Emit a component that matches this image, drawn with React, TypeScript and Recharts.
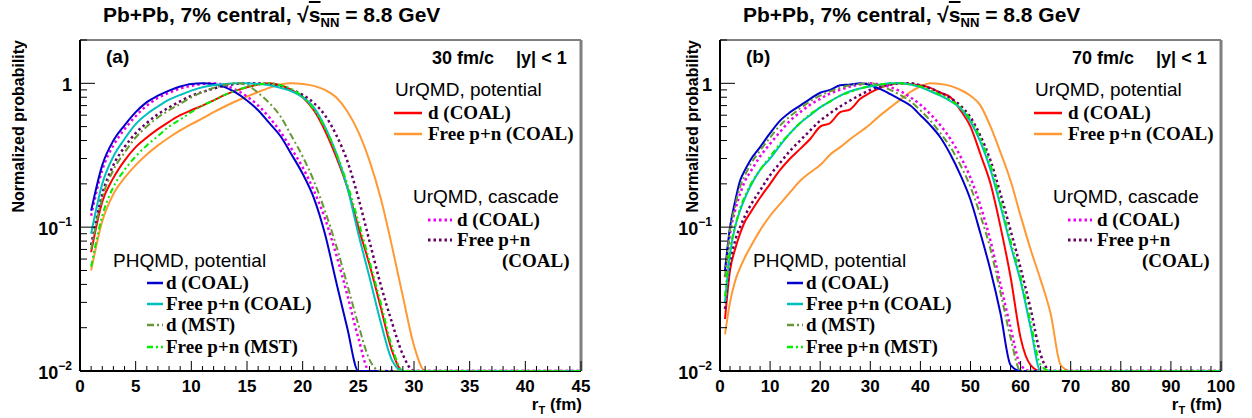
import React from 'react';
import { LineChart, Line, XAxis, YAxis, ReferenceLine } from 'recharts';

// r_T grid (fm)
const rA = [1, 2, 3, 4, 5, 6, 7, 8, 9, 10, 11, 12, 13, 14, 15, 16, 17, 18, 19, 20, 21, 22, 23, 24, 25, 26, 27, 28, 29, 30, 31, 45];
const rB = [1, 2, 3, 4, 5, 6, 8, 10, 12, 14, 16, 18, 20, 22, 24, 26, 28, 30, 32, 34, 36, 38, 40, 42, 44, 46, 48, 50, 52, 54, 56, 58, 60, 62, 64, 66, 68, 70, 100];

// (a) 30 fm/c
const aPhqmdD = [0.13, 0.27, 0.4, 0.51, 0.63, 0.74, 0.82, 0.89, 0.95, 0.99, 1.0, 0.99, 0.94, 0.86, 0.76, 0.65, 0.53, 0.43, 0.32, 0.235, 0.16, 0.09, 0.042, 0.02, 0.01, 0.01, 0.01, 0.01, 0.01, 0.01, 0.01, 0.01];
const aPhqmdFree = [0.09, 0.2, 0.31, 0.41, 0.52, 0.61, 0.69, 0.77, 0.83, 0.89, 0.94, 0.97, 0.99, 1.0, 1.0, 0.99, 0.97, 0.93, 0.88, 0.8, 0.68, 0.5, 0.33, 0.19, 0.09, 0.045, 0.022, 0.012, 0.01, 0.01, 0.01, 0.01];
const aPhqmdDMst = [0.07, 0.16, 0.25, 0.33, 0.42, 0.5, 0.58, 0.65, 0.72, 0.8, 0.87, 0.93, 0.97, 1.0, 0.97, 0.86, 0.73, 0.59, 0.43, 0.31, 0.21, 0.13, 0.075, 0.04, 0.021, 0.012, 0.01, 0.01, 0.01, 0.01, 0.01, 0.01];
const aPhqmdFreeMst = [0.053, 0.12, 0.19, 0.25, 0.31, 0.37, 0.43, 0.5, 0.56, 0.63, 0.7, 0.76, 0.83, 0.89, 0.94, 0.98, 1.0, 0.97, 0.91, 0.81, 0.66, 0.49, 0.33, 0.2, 0.11, 0.058, 0.03, 0.015, 0.01, 0.01, 0.01, 0.01];
const aUrqmdD = [0.067, 0.15, 0.22, 0.29, 0.36, 0.42, 0.48, 0.54, 0.6, 0.65, 0.7, 0.76, 0.83, 0.89, 0.94, 0.98, 1.0, 0.97, 0.9, 0.8, 0.65, 0.47, 0.31, 0.19, 0.1, 0.055, 0.028, 0.014, 0.01, 0.01, 0.01, 0.01];
const aUrqmdFree = [0.05, 0.11, 0.17, 0.22, 0.27, 0.32, 0.37, 0.42, 0.47, 0.52, 0.57, 0.63, 0.69, 0.75, 0.81, 0.87, 0.93, 0.98, 1.0, 0.99, 0.96, 0.9, 0.8, 0.64, 0.46, 0.29, 0.16, 0.075, 0.033, 0.015, 0.01, 0.01];
const aCascD = [0.12, 0.25, 0.37, 0.48, 0.59, 0.7, 0.79, 0.86, 0.92, 0.96, 0.99, 1.0, 0.97, 0.9, 0.81, 0.7, 0.58, 0.46, 0.35, 0.26, 0.18, 0.115, 0.065, 0.034, 0.017, 0.01, 0.01, 0.01, 0.01, 0.01, 0.01, 0.01];
const aCascFree = [0.075, 0.17, 0.27, 0.36, 0.45, 0.53, 0.61, 0.68, 0.75, 0.82, 0.87, 0.92, 0.96, 0.99, 1.0, 1.0, 0.98, 0.95, 0.9, 0.83, 0.73, 0.6, 0.44, 0.29, 0.16, 0.08, 0.04, 0.022, 0.013, 0.01, 0.01, 0.01];

// (b) 70 fm/c
const bPhqmdD = [0.05, 0.1, 0.15, 0.21, 0.25, 0.29, 0.36, 0.45, 0.55, 0.63, 0.7, 0.78, 0.86, 0.9, 0.97, 0.98, 1.0, 0.97, 0.91, 0.84, 0.77, 0.7, 0.6, 0.51, 0.42, 0.32, 0.23, 0.155, 0.09, 0.05, 0.025, 0.011, 0.01, 0.01, 0.01, 0.01, 0.01, 0.01, 0.01];
const bPhqmdFree = [0.03, 0.065, 0.1, 0.13, 0.16, 0.19, 0.25, 0.3, 0.37, 0.45, 0.53, 0.6, 0.68, 0.75, 0.82, 0.88, 0.92, 0.95, 0.98, 1.0, 1.0, 0.98, 0.94, 0.88, 0.82, 0.75, 0.67, 0.54, 0.39, 0.25, 0.14, 0.075, 0.042, 0.02, 0.01, 0.01, 0.01, 0.01, 0.01];
const bPhqmdDMst = [0.045, 0.095, 0.14, 0.19, 0.23, 0.27, 0.34, 0.42, 0.51, 0.59, 0.67, 0.75, 0.82, 0.88, 0.93, 0.97, 0.99, 1.0, 0.96, 0.9, 0.83, 0.75, 0.65, 0.55, 0.45, 0.36, 0.27, 0.19, 0.12, 0.07, 0.035, 0.017, 0.01, 0.01, 0.01, 0.01, 0.01, 0.01, 0.01];
const bPhqmdFreeMst = [0.033, 0.07, 0.1, 0.135, 0.165, 0.195, 0.25, 0.31, 0.38, 0.45, 0.53, 0.61, 0.68, 0.75, 0.82, 0.87, 0.92, 0.96, 0.98, 1.0, 1.0, 0.98, 0.95, 0.89, 0.83, 0.76, 0.68, 0.56, 0.41, 0.27, 0.15, 0.08, 0.045, 0.022, 0.011, 0.01, 0.01, 0.01, 0.01];
const bUrqmdD = [0.023, 0.05, 0.07, 0.09, 0.11, 0.125, 0.16, 0.2, 0.25, 0.3, 0.35, 0.41, 0.5, 0.53, 0.63, 0.66, 0.78, 0.86, 0.93, 0.98, 1.0, 0.99, 0.97, 0.93, 0.86, 0.8, 0.65, 0.5, 0.32, 0.2, 0.1, 0.045, 0.017, 0.011, 0.01, 0.01, 0.01, 0.01, 0.01];
const bUrqmdFree = [0.018, 0.03, 0.042, 0.052, 0.062, 0.072, 0.095, 0.12, 0.145, 0.175, 0.21, 0.24, 0.27, 0.32, 0.36, 0.41, 0.46, 0.52, 0.6, 0.68, 0.77, 0.87, 0.95, 1.0, 0.99, 0.96, 0.9, 0.82, 0.7, 0.5, 0.33, 0.21, 0.12, 0.07, 0.043, 0.025, 0.011, 0.01, 0.01];
const bCascD = [0.045, 0.09, 0.13, 0.17, 0.21, 0.24, 0.31, 0.38, 0.46, 0.55, 0.63, 0.71, 0.78, 0.85, 0.9, 0.95, 0.98, 1.0, 0.98, 0.94, 0.88, 0.8, 0.71, 0.61, 0.51, 0.41, 0.31, 0.22, 0.14, 0.08, 0.04, 0.02, 0.011, 0.01, 0.01, 0.01, 0.01, 0.01, 0.01];
const bCascFree = [0.027, 0.055, 0.08, 0.1, 0.12, 0.14, 0.18, 0.23, 0.28, 0.34, 0.4, 0.47, 0.55, 0.62, 0.69, 0.76, 0.83, 0.9, 0.95, 0.98, 1.0, 1.0, 0.97, 0.92, 0.86, 0.79, 0.7, 0.58, 0.43, 0.29, 0.17, 0.095, 0.052, 0.027, 0.013, 0.01, 0.01, 0.01, 0.01];

const ticksA = Array.from({ length: 46 }, (_, i) => i);
const ticksB = Array.from({ length: 51 }, (_, i) => i * 2);
const yTicks = [0.01, 0.02, 0.03, 0.04, 0.05, 0.06, 0.07, 0.08, 0.09, 0.1, 0.2, 0.3, 0.4, 0.5, 0.6, 0.7, 0.8, 0.9, 1, 2];
const yMajor: Record<string, [string, string]> = { '0.01': ['10', '\u22122'], '0.1': ['10', '\u22121'], '1': ['1', ''] };

const SANS = '"Liberation Sans", Arial, sans-serif';
const SERIF = '"Liberation Serif", "Times New Roman", serif';

// drawing order: last one on top
const SERIES = [
  { key: 'urqmdFree', color: '#ff9933', dash: undefined as string | undefined, width: 2 },
  { key: 'urqmdD', color: '#ff0000', dash: undefined, width: 2 },
  { key: 'cascFree', color: '#660066', dash: '2.5 3', width: 2.5 },
  { key: 'cascD', color: '#ee00ee', dash: '2.5 3', width: 2.5 },
  { key: 'phqmdD', color: '#0000cc', dash: undefined, width: 2 },
  { key: 'phqmdFree', color: '#00bfbf', dash: undefined, width: 2 },
  { key: 'phqmdDMst', color: '#669933', dash: '7 3 2 3', width: 2 },
  { key: 'phqmdFreeMst', color: '#00ee00', dash: '6 3 2 3 2 3', width: 2 },
];
const sOf = (k: string) => SERIES.find((s) => s.key === k)!;

const buildRows = (r: number[], cols: Record<string, number[]>) =>
  r.map((v, i) => {
    const row: Record<string, number> = { r: v };
    Object.keys(cols).forEach((k) => (row[k] = cols[k][i]));
    return row;
  });

const dataA = buildRows(rA, {
  phqmdD: aPhqmdD, phqmdFree: aPhqmdFree, phqmdDMst: aPhqmdDMst, phqmdFreeMst: aPhqmdFreeMst,
  urqmdD: aUrqmdD, urqmdFree: aUrqmdFree, cascD: aCascD, cascFree: aCascFree,
});
const dataB = buildRows(rB, {
  phqmdD: bPhqmdD, phqmdFree: bPhqmdFree, phqmdDMst: bPhqmdDMst, phqmdFreeMst: bPhqmdFreeMst,
  urqmdD: bUrqmdD, urqmdFree: bUrqmdFree, cascD: bCascD, cascFree: bCascFree,
});

const XTick = (p: any) => {
  const { x, y, payload, majorStep } = p;
  const major = payload.value % majorStep === 0;
  return (
    <g>
      <line x1={x} x2={x} y1={y} y2={y - (major ? 10 : 5)} stroke="#000" strokeWidth={1} />
      {major && (
        <text x={x} y={y + 21} textAnchor="middle" fontFamily={SANS} fontWeight="bold" fontSize={17} fill="#000">
          {payload.value}
        </text>
      )}
    </g>
  );
};

const YTick = (p: any) => {
  const { x, y, payload } = p;
  const lab = yMajor[String(payload.value)];
  return (
    <g>
      <line x1={x} x2={x + (lab ? 15 : 7)} y1={y} y2={y} stroke="#000" strokeWidth={1} />
      {lab && (
        <text x={x - 8} y={y + 8} textAnchor="end" fontFamily={SANS} fontWeight="bold" fontSize={18} fill="#000">
          <tspan>{lab[0]}</tspan>
          {lab[1] && <tspan dy={-9} fontSize={12}>{lab[1]}</tspan>}
        </text>
      )}
    </g>
  );
};

const Sample = ({ k, len }: { k: string; len: number }) => {
  const s = sOf(k);
  return (
    <svg width={len} height={6} style={{ display: 'block' }}>
      <line x1={0} y1={3} x2={len} y2={3} stroke={s.color} strokeWidth={s.width + 0.5} strokeDasharray={s.dash} />
    </svg>
  );
};

const Row = ({ k, x, y, len, gap, text }: { k?: string; x: number; y: number; len: number; gap: number; text: string }) => (
  <div style={{ position: 'absolute', left: x, top: y - 11, height: 22, display: 'flex', alignItems: 'center', whiteSpace: 'nowrap' }}>
    {k ? <Sample k={k} len={len} /> : <div style={{ width: len }} />}
    <span style={{ marginLeft: gap, fontFamily: SERIF, fontWeight: 'bold', fontSize: 19, lineHeight: '22px' }}>{text}</span>
  </div>
);

const Head = ({ x, y, text }: { x: number; y: number; text: string }) => (
  <div style={{ position: 'absolute', left: x, top: y - 11, lineHeight: '22px', fontFamily: SANS, fontSize: 19, whiteSpace: 'nowrap' }}>{text}</div>
);

function Panel({ data, xMax, xTicks, majorStep, tag, time, left, yTitleX }: any) {
  return (
    <div style={{ position: 'absolute', left, top: 0, width: 626, height: 418 }}>
      <LineChart width={626} height={418} data={data} margin={{ top: 40, right: 45, bottom: 17, left: 20 }}>
        <XAxis
          dataKey="r" type="number" domain={[0, xMax]} ticks={xTicks} interval={0} allowDataOverflow
          height={30} tickSize={0} tickMargin={0} tickLine={false}
          axisLine={{ stroke: '#000', strokeWidth: 2 }}
          tick={(p: any) => <XTick {...p} majorStep={majorStep} />}
        />
        <YAxis
          type="number" scale="log" domain={[0.01, 2]} ticks={yTicks} interval={0} allowDataOverflow
          width={60} tickSize={0} tickMargin={0} tickLine={false}
          axisLine={{ stroke: '#000', strokeWidth: 2 }}
          tick={(p: any) => <YTick {...p} />}
        />
        <ReferenceLine y={2} stroke="#000" strokeWidth={1} ifOverflow="extendDomain" />
        <ReferenceLine x={xMax} stroke="#808080" strokeWidth={3} />
        {SERIES.map((s) => (
          <Line
            key={s.key} dataKey={s.key} type="monotone" stroke={s.color} strokeWidth={s.width}
            strokeDasharray={s.dash} dot={false} activeDot={false} isAnimationActive={false}
            {...({ zIndex: 600 } as any)}
          />
        ))}
      </LineChart>

      <div style={{ position: 'absolute', left: 103, top: 2, fontFamily: SANS, fontWeight: 'bold', fontSize: 21, whiteSpace: 'nowrap', lineHeight: '26px' }}>
        Pb+Pb, 7% central, {'\u221A'}
        <span style={{ textDecoration: 'overline' }}>
          s<sub style={{ fontSize: 13 }}>NN</sub>
        </span>{' '}
        = 8.8 GeV
      </div>
      <div
        style={{
          position: 'absolute', left: yTitleX, top: 40, writingMode: 'vertical-rl', transform: 'rotate(180deg)',
          fontFamily: SANS, fontWeight: 'bold', fontSize: 16, lineHeight: '18px', whiteSpace: 'nowrap',
        }}
      >
        Normalized probability
      </div>
      <div style={{ position: 'absolute', left: 106, top: 46, fontFamily: SANS, fontWeight: 'bold', fontSize: 19, lineHeight: '22px' }}>{tag}</div>
      <div style={{ position: 'absolute', left: 432, top: 47, fontFamily: SANS, fontWeight: 'bold', fontSize: 18, lineHeight: '22px', whiteSpace: 'nowrap' }}>
        {time}
        <span style={{ marginLeft: 22 }}>|y| &lt; 1</span>
      </div>
      <div style={{ position: 'absolute', right: 44, top: 395, fontFamily: SANS, fontWeight: 'bold', fontSize: 17, lineHeight: '20px', whiteSpace: 'nowrap' }}>
        r<sub style={{ fontSize: 11 }}>T</sub> (fm)
      </div>

      <Head x={395} y={90} text="UrQMD, potential" />
      <Row k="urqmdD" x={394} y={113} len={28} gap={6} text="d (COAL)" />
      <Row k="urqmdFree" x={394} y={134} len={28} gap={6} text="Free p+n (COAL)" />

      <Head x={413} y={197} text="UrQMD, cascade" />
      <Row k="cascD" x={428} y={220} len={24} gap={5} text="d (COAL)" />
      <Row k="cascFree" x={428} y={240} len={24} gap={5} text="Free p+n" />
      <Row x={428} y={261} len={74} gap={0} text="(COAL)" />

      <Head x={113} y={261} text="PHQMD, potential" />
      <Row k="phqmdD" x={147} y={283} len={16} gap={3} text="d (COAL)" />
      <Row k="phqmdFree" x={147} y={304} len={16} gap={3} text="Free p+n (COAL)" />
      <Row k="phqmdDMst" x={147} y={325} len={16} gap={3} text="d (MST)" />
      <Row k="phqmdFreeMst" x={147} y={347} len={16} gap={3} text="Free p+n (MST)" />
    </div>
  );
}

export default function App() {
  return (
    <div style={{ position: 'absolute', left: 0, top: 0, width: 1252, height: 418, background: '#fff', overflow: 'hidden' }}>
      <Panel data={dataA} xMax={45} xTicks={ticksA} majorStep={5} tag="(a)" time="30 fm/c" left={0} yTitleX={10} />
      <Panel data={dataB} xMax={100} xTicks={ticksB} majorStep={10} tag="(b)" time="70 fm/c" left={640} yTitleX={44} />
    </div>
  );
}
